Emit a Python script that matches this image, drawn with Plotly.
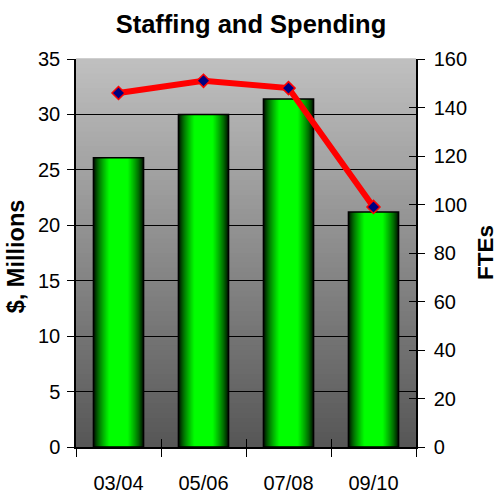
import plotly.graph_objects as go
import numpy as np

# ---- data ----
periods = ["03/04", "05/06", "07/08", "09/10"]
spending_millions = [26.1, 30.0, 31.4, 21.2]
ftes = [146, 151, 148, 99]

FONT = "Liberation Sans, Arial, sans-serif"

fig = go.Figure()

# Cylinder-style green bars: stacked overlays from wide/dark to narrow/bright
BAR_W = 0.59
n_steps = 28
for k in range(n_steps):
    d_outer = 1 - k / n_steps
    d_mid = d_outer - 0.5 / n_steps
    f = np.clip((1 - d_mid) / 0.64, 0, 1) ** 0.75
    g = int(round(255 * f))
    fig.add_trace(go.Bar(
        x=periods, y=spending_millions, width=BAR_W * d_outer,
        marker=dict(color=f"rgb(0,{g},0)", line=dict(width=0)),
        showlegend=False, hoverinfo="skip" if k else None,
    ))
# outline on top
fig.add_trace(go.Bar(
    x=periods, y=spending_millions, width=BAR_W,
    marker=dict(color="rgba(0,0,0,0)", line=dict(color="black", width=1.5)),
    showlegend=False, hoverinfo="skip",
))

# FTE line on secondary axis
fig.add_trace(go.Scatter(
    x=periods, y=ftes, yaxis="y2", mode="lines+markers",
    line=dict(color="#ff0000", width=6),
    marker=dict(symbol="diamond", size=10, color="#000080",
                line=dict(color="#ff0000", width=1.5)),
    showlegend=False,
))

# plot-area vertical gradient (light grey top -> dark grey bottom)
top = np.array([192, 192, 192])
bot = np.array([86, 86, 86])
N = 80
shapes = []
for i in range(N):
    t = (i + 0.5) / N
    c = (bot + (top - bot) * t).round().astype(int)
    shapes.append(dict(type="rect", xref="paper", yref="paper",
                       x0=0, x1=1, y0=i / N, y1=(i + 1) / N + 0.002,
                       fillcolor=f"rgb({c[0]},{c[1]},{c[2]})",
                       line=dict(width=0), layer="below"))

fig.update_layout(
    width=497, height=494,
    margin=dict(l=76, r=81, t=59, b=47, autoexpand=False),
    paper_bgcolor="white", plot_bgcolor="#8c8c8c",
    barmode="overlay",
    shapes=shapes,
    font=dict(family=FONT, size=20, color="black"),
    title=dict(text="<b>Staffing and Spending</b>", x=0.505, xanchor="center",
               y=0.952, yanchor="middle", font=dict(size=25.5, family=FONT)),
    xaxis=dict(type="category", categoryorder="array", categoryarray=periods,
               range=[-0.5, 3.5], tickson="boundaries", ticks="outside",
               ticklen=8, tickcolor="black", tickwidth=1.2,
               showline=True, linecolor="black", linewidth=1.5,
               showgrid=False, ticklabelstandoff=17, automargin=False),
    xaxis2=dict(overlaying="x", anchor="y", range=[-0.5, 3.5],
                tickvals=[0.5, 1.5, 2.5], ticks="inside", ticklen=8,
                tickcolor="black", tickwidth=1.2, showticklabels=False,
                showgrid=False, zeroline=False, showline=False,
                automargin=False),
    yaxis=dict(range=[0, 35], dtick=5, ticks="outside", ticklen=7,
               tickcolor="black", tickwidth=1.2, showline=True,
               linecolor="black", linewidth=1.5, showgrid=True,
               gridcolor="black", gridwidth=1, zeroline=False,
               ticklabelstandoff=3, automargin=False),
    yaxis2=dict(range=[0, 160], dtick=20, overlaying="y", side="right",
                ticks="outside", ticklen=7, tickcolor="black", tickwidth=1.2,
                showline=True, linecolor="black", linewidth=1.5,
                showgrid=False, zeroline=False, ticklabelstandoff=5,
                automargin=False),
    yaxis3=dict(range=[0, 160], dtick=20, overlaying="y", side="right",
                anchor="x", ticks="inside", ticklen=7, tickcolor="black",
                tickwidth=1.2, showticklabels=False, showgrid=False,
                zeroline=False, showline=False, automargin=False),
    annotations=[
        dict(text="<b>$, Millions</b>", xref="paper", yref="paper",
             x=-0.176, y=0.492, textangle=-90, showarrow=False,
             xanchor="center", yanchor="middle", font=dict(size=23.5)),
        dict(text="<b>FTEs</b>", xref="paper", yref="paper",
             x=1.203, y=0.5, textangle=-90, showarrow=False,
             xanchor="center", yanchor="middle", font=dict(size=22.5)),
    ],
)

# invisible helpers so the overlay tick axes are rendered
fig.add_trace(go.Scatter(x=[None], y=[None], xaxis="x2", yaxis="y",
                         showlegend=False, hoverinfo="skip"))
fig.add_trace(go.Scatter(x=[None], y=[None], xaxis="x", yaxis="y3",
                         showlegend=False, hoverinfo="skip"))

fig.write_html("out.html")
